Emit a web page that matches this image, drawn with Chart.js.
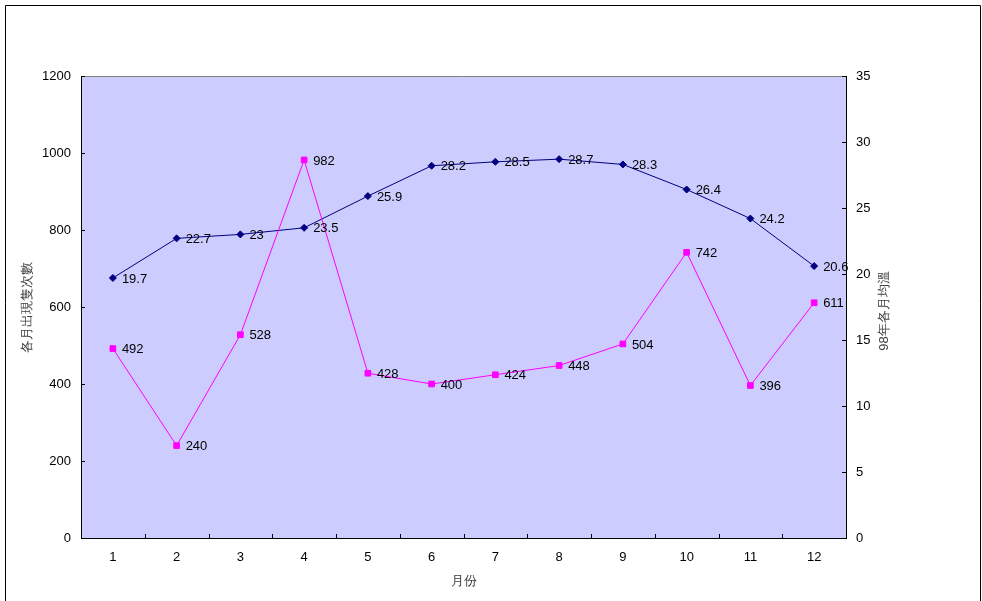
<!DOCTYPE html>
<html>
<head>
<meta charset="utf-8">
<script src="https://cdn.jsdelivr.net/npm/chart.js@4.4.0/dist/chart.umd.min.js"></script>
<style>
  body { margin: 0; background: #fff; }
  #wrap { width: 982px; height: 601px; position: relative; }
</style>
</head>
<body>
<div id="wrap"><canvas id="chart"></canvas></div>
<script>
const months = ["1", "2", "3", "4", "5", "6", "7", "8", "9", "10", "11", "12"];
const birdCounts = [492, 240, 528, 982, 428, 400, 424, 448, 504, 742, 396, 611];
const avgTemps = [19.7, 22.7, 23, 23.5, 25.9, 28.2, 28.5, 28.7, 28.3, 26.4, 24.2, 20.6];
const rightTitle = "98年各月均溫";

const fontFamily = "'Liberation Sans', Arial, sans-serif";

// plot background, frame, inward ticks, right title and value labels
const decorPlugin = {
  id: "decor",
  beforeDraw(chart) {
    const { ctx, chartArea } = chart;
    ctx.save();
    ctx.fillStyle = "#ffffff";
    ctx.fillRect(0, 0, chart.width, chart.height);
    ctx.fillStyle = "#ccccff";
    ctx.fillRect(chartArea.left, chartArea.top, chartArea.right - chartArea.left, chartArea.bottom - chartArea.top);
    ctx.strokeStyle = "#000";
    ctx.lineWidth = 1;
    ctx.beginPath();
    ctx.moveTo(5.5, 610);
    ctx.lineTo(5.5, 5.5);
    ctx.lineTo(980.5, 5.5);
    ctx.lineTo(980.5, 610);
    ctx.stroke();
    ctx.restore();
  },
  afterDraw(chart) {
    const { ctx, chartArea } = chart;
    const x = chart.scales.x;
    const yL = chart.scales.yLeft;
    const yR = chart.scales.yRight;
    ctx.save();
    ctx.lineWidth = 1;
    // top edge of plot
    ctx.strokeStyle = "#808080";
    ctx.beginPath();
    ctx.moveTo(chartArea.left, chartArea.top + 0.5);
    ctx.lineTo(chartArea.right, chartArea.top + 0.5);
    ctx.stroke();
    ctx.strokeStyle = "#000";
    ctx.beginPath();
    yL.ticks.forEach((t) => {
      const py = Math.round(yL.getPixelForValue(t.value)) + 0.5;
      ctx.moveTo(chartArea.left, py);
      ctx.lineTo(chartArea.left + 4, py);
    });
    yR.ticks.forEach((t) => {
      const py = Math.round(yR.getPixelForValue(t.value)) + 0.5;
      ctx.moveTo(chartArea.right, py);
      ctx.lineTo(chartArea.right - 4, py);
    });
    for (let i = 0; i < months.length - 1; i++) {
      const px = Math.round((x.getPixelForValue(i) + x.getPixelForValue(i + 1)) / 2) + 0.5;
      ctx.moveTo(px, chartArea.bottom);
      ctx.lineTo(px, chartArea.bottom - 4);
    }
    ctx.stroke();

    // right axis title, reads bottom to top like the left one
    ctx.save();
    ctx.translate(884, (chartArea.top + chartArea.bottom) / 2 + 4);
    ctx.rotate(-Math.PI / 2);
    ctx.fillStyle = "#404040";
    ctx.font = "13px " + fontFamily;
    ctx.textAlign = "center";
    ctx.textBaseline = "middle";
    ctx.fillText(rightTitle, 0, 0);
    ctx.restore();

    // value labels
    ctx.fillStyle = "#000";
    ctx.font = "13px " + fontFamily;
    ctx.textAlign = "left";
    ctx.textBaseline = "middle";
    chart.data.datasets.forEach((ds, di) => {
      chart.getDatasetMeta(di).data.forEach((pt, i) => {
        ctx.fillText(String(ds.data[i]), pt.x + 9, pt.y + 1);
      });
    });
    ctx.restore();
  }
};

new Chart(document.getElementById("chart"), {
  type: "line",
  data: {
    labels: months,
    datasets: [
      {
        label: "各月出現隻次數",
        data: birdCounts,
        yAxisID: "yLeft",
        borderColor: "#ff00ff",
        backgroundColor: "#ff00ff",
        borderWidth: 1,
        pointStyle: "rect",
        pointRadius: 4,
        tension: 0
      },
      {
        label: rightTitle,
        data: avgTemps,
        yAxisID: "yRight",
        borderColor: "#000080",
        backgroundColor: "#000080",
        borderWidth: 1,
        pointStyle: "rectRot",
        pointRadius: 3.5,
        tension: 0
      }
    ]
  },
  options: {
    responsive: true,
    maintainAspectRatio: false,
    animation: false,
    events: [],
    layout: { padding: { top: 76, left: 0, right: 0, bottom: 0 } },
    plugins: {
      legend: { display: false },
      tooltip: { enabled: false }
    },
    scales: {
      x: {
        offset: true,
        grid: { display: false, drawTicks: false },
        border: { display: true, color: "#000", width: 1 },
        ticks: { color: "#000", font: { family: fontFamily, size: 13 }, padding: 12, maxRotation: 0 },
        title: { display: true, text: "月份", color: "#404040", font: { family: fontFamily, size: 13 }, padding: { bottom: 12 } },
        afterFit(scale) { scale.height = 63; }
      },
      yLeft: {
        position: "left",
        min: 0,
        max: 1200,
        grid: { display: false, drawTicks: false },
        border: { display: true, color: "#000", width: 1 },
        ticks: { stepSize: 200, color: "#000", font: { family: fontFamily, size: 13 }, padding: 10, callback: (v) => String(v) },
        title: { display: true, text: "各月出現隻次數", color: "#404040", font: { family: fontFamily, size: 13 }, padding: { top: 20 } },
        afterFit(scale) { scale.width = 81; }
      },
      yRight: {
        position: "right",
        min: 0,
        max: 35,
        grid: { display: false, drawTicks: false },
        border: { display: true, color: "#000", width: 1 },
        ticks: { stepSize: 5, color: "#000", font: { family: fontFamily, size: 13 }, padding: 10 },
        afterFit(scale) { scale.width = 136; }
      }
    }
  },
  plugins: [decorPlugin]
});
</script>
</body>
</html>
